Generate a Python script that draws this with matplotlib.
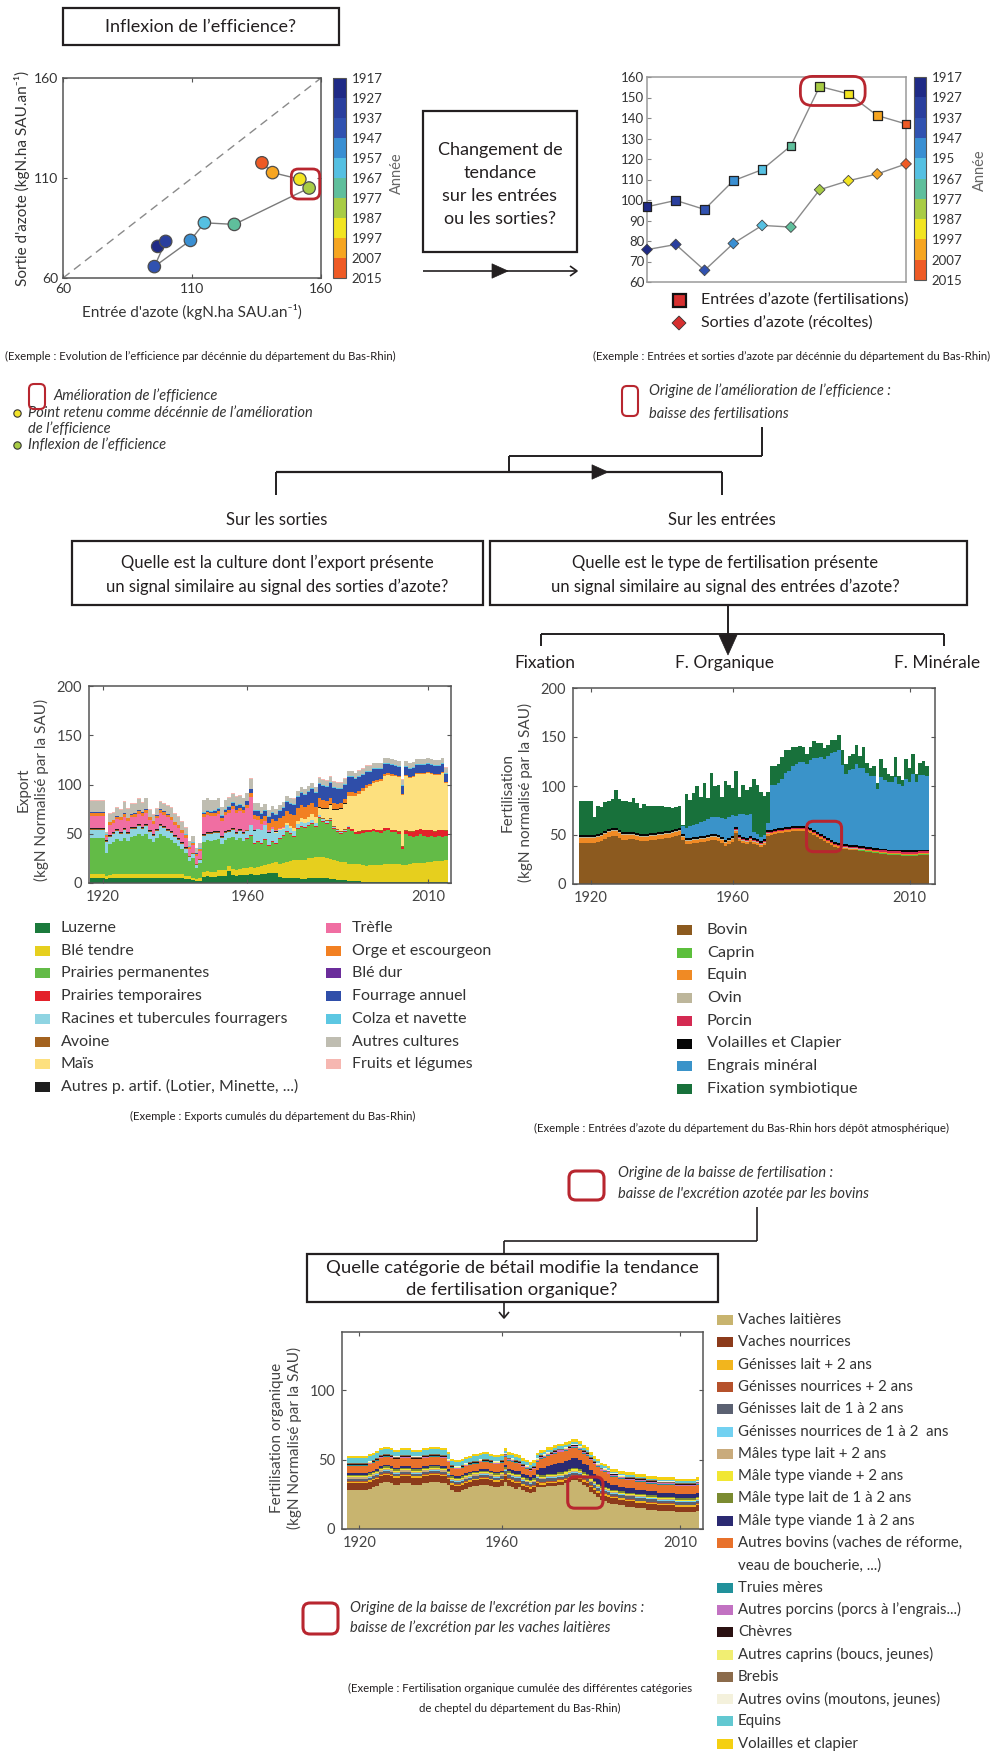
import matplotlib
matplotlib.use("Agg")
import matplotlib.pyplot as plt
import numpy as np
from matplotlib.patches import Rectangle, FancyBboxPatch, Polygon
from matplotlib.colors import ListedColormap, BoundaryNorm
from matplotlib.cm import ScalarMappable

plt.rcParams['font.family'] = ['Lato', 'DejaVu Sans']

# ---------------------------------------------------------------- decades
decades = [1917, 1927, 1937, 1947, 1957, 1967, 1977, 1987, 1997, 2007]
decade_edges = [1917, 1927, 1937, 1947, 1957, 1967, 1977, 1987, 1997, 2007, 2015]
decade_labels_left = ['1917', '1927', '1937', '1947', '1957', '1967', '1977', '1987', '1997', '2007', '2015']
decade_labels_right = ['1917', '1927', '1937', '1947', '195', '1967', '1977', '1987', '1997', '2007', '2015']
decade_colors = ['#1f2a86', '#2a3f9e', '#3152b0', '#3a8fd2', '#55c0e2',
                 '#5fbf9c', '#a8cc45', '#f2e421', '#f6a521', '#ee5a25']
entrees = [96.7, 99.8, 95.4, 109.4, 114.8, 126.4, 155.4, 151.8, 141.2, 137.1]
sorties = [75.8, 78.3, 65.7, 78.8, 87.6, 86.8, 105.0, 109.4, 112.7, 117.6]

# ---------------------------------------------------------------- yearly series
years = list(range(1917, 2016))

# Exports by crop
export_labels = ['Luzerne', 'Blé tendre', 'Prairies permanentes', 'Prairies temporaires',
                 'Racines et tubercules fourragers', 'Avoine', 'Maïs',
                 'Autres p. artif. (Lotier, Minette, ...)', 'Trèfle', 'Orge et escourgeon',
                 'Blé dur', 'Fourrage annuel', 'Colza et navette', 'Autres cultures',
                 'Fruits et légumes']
export_colors = ['#1b7a3c', '#e6cf1e', '#63bb47', '#e3212a', '#8fd4e2', '#a3621f', '#fde07e',
                 '#1e1e1e', '#f06ea2', '#f28022', '#6b2d9b', '#2f4ea9', '#5cc7e2', '#bfbdb1',
                 '#f6b7b1']
luzerne = [
    5, 5, 5, 5,
    4, 5, 5, 5, 5, 5, 5, 5, 5, 5,
    5, 5, 5, 5, 5, 5, 5, 5, 5, 5,
    5, 5, 4, 4, 3, 2, 2, 6, 7, 6,
    6, 7, 7, 7, 12, 8, 7, 8, 8, 8,
    9, 8, 8, 9, 9, 10, 10, 10, 6, 5,
    5, 5, 5, 5, 4, 4, 5, 5, 5, 5,
    5, 5, 4, 4, 3, 3, 3, 2, 2, 2,
    2, 1, 1, 1, 1, 1, 1, 1, 1, 1,
    1, 1, 1, 1, 1, 1, 1, 1, 1, 1,
    1, 1, 1, 1, 1]
ble_tendre = [
    4, 4, 4, 4,
    3, 3, 4, 4, 4, 4, 4, 4, 4, 4,
    4, 4, 4, 4, 4, 4, 4, 4, 4, 4,
    4, 4, 3, 3, 2, 2, 3, 5, 5, 5,
    5, 6, 6, 6, 5, 6, 6, 6, 7, 7,
    7, 7, 8, 8, 9, 9, 10, 11, 13, 15,
    16, 17, 18, 18, 19, 19, 20, 20, 21, 21,
    21, 20, 20, 19, 19, 18, 18, 17, 17, 17,
    17, 17, 16, 17, 17, 17, 17, 18, 18, 18,
    18, 18, 17, 17, 18, 19, 19, 19, 19, 20,
    20, 21, 21, 21, 22]
prairies_perm = [
    37, 37, 37, 37,
    23, 32, 33, 36, 34, 37, 34, 38, 39, 41,
    39, 41, 36, 33, 37, 41, 39, 37, 35, 32,
    29, 26, 23, 15, 20, 11, 15, 31, 32, 32,
    33, 32, 27, 31, 29, 33, 31, 32, 28, 30,
    32, 25, 26, 23, 26, 19, 22, 19, 26, 28,
    31, 28, 24, 32, 34, 33, 33, 35, 31, 40,
    36, 35, 39, 32, 30, 29, 31, 36, 34, 31,
    31, 33, 35, 34, 35, 34, 33, 34, 35, 33,
    33, 31, 17, 32, 29, 27, 28, 30, 28, 26,
    27, 25, 26, 25, 25]
prairies_temp = [
    0, 0, 0, 0,
    0, 0, 0, 0, 0, 0, 0, 0, 0, 0,
    0, 0, 0, 0, 0, 0, 0, 0, 0, 0,
    0, 0, 0, 0, 0, 0, 0, 0, 0, 0,
    0, 0, 0, 0, 0, 0, 0, 0, 0, 0.5,
    0.5, 0.5, 0.5, 0.5, 0.5, 0.5, 0.5, 0.5, 0.5, 0.5,
    0.5, 0.5, 0.5, 0.5, 0.5, 0.5, 0.5, 0.5, 0.5, 1,
    1, 1, 1, 1, 1, 1, 1, 1.5, 1.5, 1.5,
    2, 2, 2, 2, 2, 2, 2, 3, 2, 2,
    2, 2, 2, 3, 4, 5, 6, 5, 6, 7,
    6, 5, 6, 7, 5]
racines = [
    8, 8, 8, 8,
    12, 7, 8, 8, 7, 8, 7, 8, 7, 8,
    7, 8, 7, 6, 7, 8, 8, 7, 7, 6,
    6, 5, 5, 4, 4, 3, 3, 6, 6, 7,
    7, 6, 6, 7, 6, 7, 6, 7, 7, 7,
    10, 12, 12, 13, 14, 12, 12, 10, 8, 6,
    6, 5, 5, 4, 4, 4, 3, 3, 3, 2,
    2, 2, 1, 1, 1, 1, 1, 1, 0, 0,
    0, 0, 0, 0, 0, 0, 0, 0, 0, 0,
    0, 0, 0, 0, 0, 0, 0, 0, 0, 0,
    0, 0, 0, 0, 0]
avoine = [
    1, 1, 1, 1,
    1, 1, 1, 1, 1, 1, 1, 1, 1, 1,
    1, 1, 1, 1, 1, 1, 1, 1, 1, 1,
    1, 1, 1, 1, 1, 1, 1, 1, 1, 1,
    1, 1, 1, 1, 1, 1, 1, 1, 1, 1,
    0.5, 0.5, 0.5, 0.5, 0.5, 0.5, 0.5, 0.5, 0.5, 0.5,
    0.5, 0.5, 0.5, 0.5, 0.5, 0.5, 0.5, 0.5, 0.5, 0.5,
    0.5, 0.5, 0.5, 0.5, 0.5, 0.5, 0.5, 0.5, 0.5, 0.5,
    0.3, 0.3, 0.3, 0.3, 0.3, 0.3, 0.3, 0.3, 0.3, 0.3,
    0.3, 0.3, 0.3, 0.3, 0.3, 0.3, 0.3, 0.3, 0.3, 0.3,
    0.3, 0.3, 0.3, 0.3, 0.3]
mais = [
    0, 0, 0, 0,
    0, 0, 0, 0, 0, 0, 0, 0, 0, 0,
    0, 0, 0, 0, 0, 0, 0, 0, 0, 0,
    0, 0, 0, 0, 0, 0, 0, 0, 0, 0,
    0, 0, 0, 0, 0, 0, 0, 0, 0, 0,
    0, 0, 0, 0, 0, 0, 0, 1, 1, 1,
    2, 2, 3, 3, 4, 4, 5, 6, 6, 7,
    10, 12, 14, 17, 20, 23, 26, 30, 33, 36,
    38, 40, 42, 44, 46, 48, 50, 52, 53, 54,
    54, 55, 52, 55, 54, 55, 56, 55, 56, 57,
    56, 57, 55, 57, 48]
autres_artif = [
    0.5, 0.5, 0.5, 0.5,
    0.5, 0.5, 0.5, 0.5, 0.5, 0.5, 0.5, 0.5, 0.5, 0.5,
    0.5, 0.5, 0.5, 0.5, 0.5, 0.5, 0.5, 0.5, 0.5, 0.5,
    0.5, 0.5, 0.5, 0.5, 0.5, 0.5, 0.5, 0.5, 0.5, 0.5,
    0.5, 0.5, 0.5, 0.5, 0.5, 0.5, 0.5, 0.5, 0.5, 0.5,
    0.3, 0.3, 0.3, 0.3, 0.3, 0.3, 0.3, 0.3, 0.3, 0.3,
    0.3, 0.3, 0.3, 0.3, 0.3, 0.3, 0.3, 0.3, 0.3, 0.3,
    0.3, 0.3, 0.3, 0.3, 0.3, 0.3, 0.3, 0.3, 0.3, 0.3,
    0.3, 0.3, 0.3, 0.3, 0.3, 0.3, 0.3, 0.3, 0.3, 0.3,
    0.3, 0.3, 0.3, 0.3, 0.3, 0.3, 0.3, 0.3, 0.3, 0.3,
    0.3, 0.3, 0.3, 0.3, 0.3]
trefle = [
    13, 13, 13, 13,
    3, 10, 9, 10, 12, 12, 11, 10, 11, 11,
    12, 12, 10, 10, 11, 12, 12, 12, 11, 10,
    10, 9, 9, 7, 8, 8, 8, 18, 18, 17,
    16, 18, 15, 17, 18, 20, 20, 19, 20, 22,
    28, 12, 9, 6, 4, 3, 2, 2, 1, 1,
    0, 0, 0, 0, 0, 0, 0, 0, 0, 0,
    0, 0, 0, 0, 0, 0, 0, 0, 0, 0,
    0, 0, 0, 0, 0, 0, 0, 0, 0, 0,
    0, 0, 0, 0, 0, 0, 0, 0, 0, 0,
    0, 0, 0, 0, 0]
orge = [
    3, 3, 3, 3,
    2, 3, 3, 3, 3, 3, 3, 3, 3, 3,
    3, 3, 3, 3, 3, 3, 3, 3, 3, 3,
    3, 3, 3, 2, 2, 2, 2, 3, 3, 3,
    3, 3, 3, 3, 3, 3, 3, 3, 3, 3,
    4, 4, 4, 5, 5, 7, 8, 9, 10, 11,
    12, 12, 13, 13, 13, 12, 12, 11, 10, 9,
    8, 7, 6, 6, 5, 5, 4, 4, 4, 3,
    3, 3, 3, 2, 2, 2, 2, 2, 2, 2,
    1, 1, 1, 1, 1, 1, 1, 1, 1, 1,
    1, 1, 1, 1, 1]
ble_dur = [
    0, 0, 0, 0,
    0, 0, 0, 0, 0, 0, 0, 0, 0, 0,
    0, 0, 0, 0, 0, 0, 0, 0, 0, 0,
    0, 0, 0, 0, 0, 0, 0, 0, 0, 0,
    0, 0, 0, 0, 0, 0, 0, 0, 0, 0,
    0, 0, 0, 0, 0, 0, 0, 0, 0, 0,
    0, 0, 0, 0, 0, 0, 0, 0, 0, 0,
    0, 0, 0, 0, 0, 0, 0, 0, 0, 0.2,
    0.2, 0.2, 0.2, 0.2, 0.2, 0.2, 0.2, 0.2, 0.2, 0.2,
    0.2, 0.2, 0.2, 0.2, 0.2, 0.2, 0.2, 0.2, 0.2, 0.2,
    0.2, 0.2, 0.2, 0.2, 0.2]
fourrage = [
    0.5, 0.5, 0.5, 0.5,
    0.5, 0.5, 0.5, 0.5, 0.5, 0.5, 0.5, 0.5, 0.5, 0.5,
    0.5, 0.5, 0.5, 0.5, 0.5, 0.5, 0.5, 0.5, 0.5, 0.5,
    0.5, 0.5, 0.5, 0.5, 0.5, 0.5, 0.5, 1, 1, 1,
    2, 2, 3, 2, 3, 3, 4, 3, 3, 4,
    4, 4, 5, 5, 5, 6, 6, 6, 7, 8,
    9, 10, 10, 11, 12, 12, 13, 14, 14, 15,
    15, 15, 16, 16, 16, 15, 15, 15, 15, 14,
    14, 13, 13, 12, 12, 11, 10, 10, 9, 9,
    9, 9, 8, 8, 8, 8, 8, 8, 8, 8,
    8, 8, 8, 8, 8]
colza = [
    0.3, 0.3, 0.3, 0.3,
    0.3, 0.3, 0.3, 0.3, 0.3, 0.3, 0.3, 0.3, 0.3, 0.3,
    0.3, 0.3, 0.3, 0.3, 0.3, 0.3, 0.3, 0.3, 0.3, 0.3,
    0.3, 0.3, 0.3, 0.3, 0.3, 0.3, 0.3, 0.3, 0.3, 0.3,
    0.3, 0.3, 0.3, 0.3, 0.3, 0.3, 0.3, 0.3, 0.3, 0.3,
    0.5, 0.5, 0.5, 0.5, 0.5, 0.5, 0.5, 0.5, 0.5, 0.5,
    1, 1, 1, 1, 1, 1, 1, 1, 1, 1,
    1, 1, 1, 1, 1, 1, 1, 1, 1, 1,
    1, 1, 1, 1, 1, 1, 1, 1, 1, 1,
    1, 1, 1, 1, 1, 1, 1, 1, 1, 1,
    1, 1, 1, 1, 1]
autres_cultures = [
    11, 11, 11, 11,
    2, 8, 7, 8, 7, 11, 9, 10, 9, 11,
    9, 11, 7, 6, 6, 7, 7, 8, 9, 8,
    8, 8, 7, 5, 6, 5, 5, 12, 12, 11,
    10, 10, 8, 9, 9, 9, 9, 9, 8, 8,
    10, 7, 7, 6, 6, 6, 6, 5, 5, 5,
    5, 5, 5, 5, 5, 5, 5, 5, 5, 5,
    5, 5, 5, 5, 5, 5, 5, 5, 5, 5,
    5, 5, 5, 5, 5, 5, 5, 5, 5, 5,
    5, 5, 5, 5, 5, 5, 5, 5, 5, 5,
    5, 5, 5, 5, 5]
fruits_legumes = [
    0.5, 0.5, 0.5, 0.5,
    0.5, 0.5, 0.5, 0.5, 0.5, 0.5, 0.5, 0.5, 0.5, 0.5,
    0.5, 0.5, 0.5, 0.5, 0.5, 0.5, 0.5, 0.5, 0.5, 0.5,
    0.5, 0.5, 0.5, 0.5, 0.5, 0.5, 0.5, 0.5, 0.5, 0.5,
    0.5, 0.5, 0.5, 0.5, 0.5, 0.5, 0.5, 0.5, 0.5, 0.5,
    0.5, 0.5, 0.5, 0.5, 0.5, 0.5, 0.5, 0.5, 0.5, 0.5,
    0.5, 0.5, 0.5, 0.5, 0.5, 0.5, 0.5, 0.5, 0.5, 0.5,
    0.5, 0.5, 0.5, 0.5, 0.5, 0.5, 0.5, 0.5, 0.5, 0.5,
    0.5, 0.5, 0.5, 0.5, 0.5, 0.5, 0.5, 0.5, 0.5, 0.5,
    0.5, 0.5, 0.5, 0.5, 0.5, 0.5, 0.5, 0.5, 0.5, 0.5,
    0.5, 0.5, 0.5, 0.5, 0.5]
export_series = [luzerne, ble_tendre, prairies_perm, prairies_temp, racines, avoine, mais,
                 autres_artif, trefle, orge, ble_dur, fourrage, colza, autres_cultures,
                 fruits_legumes]

# Nitrogen inputs by type
fert_labels = ['Bovin', 'Caprin', 'Equin', 'Ovin', 'Porcin', 'Volailles et Clapier',
               'Engrais minéral', 'Fixation symbiotique']
fert_colors = ['#8c5a1f', '#5cbf3c', '#f08a24', '#bdb69b', '#d42a52', '#050505',
               '#3a93c9', '#18713b']
bovin = [
    42, 42, 42, 42,
    42, 43, 44, 46, 48, 49, 49, 47, 45, 45,
    46, 46, 45, 44, 44, 44, 45, 45, 46, 46,
    47, 47, 48, 49, 50, 45, 41, 41, 42, 42,
    43, 43, 44, 45, 45, 44, 42, 39, 41, 43,
    52, 44, 42, 41, 43, 41, 40, 38, 40, 49,
    50, 51, 52, 52, 53, 53, 54, 54, 54, 54,
    53, 52, 50, 48, 46, 44, 42, 40, 38, 37,
    36, 36, 35, 35, 35, 34, 34, 33, 33, 32,
    32, 31, 31, 30, 30, 30, 30, 29, 29, 29,
    29, 29, 30, 30, 30]
caprin = [
    0.2, 0.2, 0.2, 0.2,
    0.2, 0.2, 0.2, 0.2, 0.2, 0.2, 0.2, 0.2, 0.2, 0.2,
    0.2, 0.2, 0.2, 0.2, 0.2, 0.2, 0.2, 0.2, 0.2, 0.2,
    0.2, 0.2, 0.2, 0.2, 0.2, 0.2, 0.2, 0.2, 0.2, 0.2,
    0.2, 0.2, 0.2, 0.2, 0.2, 0.2, 0.2, 0.2, 0.2, 0.2,
    0.2, 0.2, 0.2, 0.2, 0.2, 0.2, 0.2, 0.2, 0.2, 0.2,
    0.2, 0.2, 0.2, 0.2, 0.2, 0.2, 0.2, 0.2, 0.2, 0.2,
    0.2, 0.2, 0.2, 0.2, 0.2, 0.2, 0.2, 0.2, 0.2, 0.2,
    0.2, 0.2, 0.2, 0.2, 0.2, 0.2, 0.2, 0.2, 0.2, 0.2,
    0.2, 0.2, 0.2, 0.2, 0.2, 0.2, 0.2, 0.2, 0.2, 0.2,
    0.2, 0.2, 0.2, 0.2, 0.2]
equin = [
    5, 5, 5, 5,
    5, 5, 5, 5, 5, 5, 5, 5, 5, 5,
    4, 4, 4, 4, 4, 4, 4, 4, 4, 4,
    4, 4, 4, 4, 4, 3, 3, 3, 3, 3,
    3, 3, 3, 3, 3, 3, 3, 3, 3, 3,
    2, 2, 2, 2, 2, 2, 2, 2, 2, 2,
    1.5, 1.5, 1.5, 1.5, 1.5, 1.5, 1.5, 1.5, 1.5, 1.5,
    1.5, 1.5, 1.5, 1.5, 1.5, 1.5, 1.5, 1.5, 1.5, 1.5,
    1, 1, 1, 1, 1, 1, 1, 1, 1, 1,
    1, 1, 1, 1, 1, 1, 1, 1, 1, 1,
    1, 1, 1, 1, 1]
ovin = [
    0.5, 0.5, 0.5, 0.5,
    0.5, 0.5, 0.5, 0.5, 0.5, 0.5, 0.5, 0.5, 0.5, 0.5,
    0.5, 0.5, 0.5, 0.5, 0.5, 0.5, 0.5, 0.5, 0.5, 0.5,
    0.5, 0.5, 0.5, 0.5, 0.5, 0.5, 0.5, 0.5, 0.5, 0.5,
    0.5, 0.5, 0.5, 0.5, 0.5, 0.5, 0.5, 0.5, 0.5, 0.5,
    0.5, 0.5, 0.5, 0.5, 0.5, 0.5, 0.5, 0.5, 0.5, 0.5,
    0.5, 0.5, 0.5, 0.5, 0.5, 0.5, 0.5, 0.5, 0.5, 0.5,
    0.5, 0.5, 0.5, 0.5, 0.5, 0.5, 0.5, 0.5, 0.5, 0.5,
    0.5, 0.5, 0.5, 0.5, 0.5, 0.5, 0.5, 0.5, 0.5, 0.5,
    0.5, 0.5, 0.5, 0.5, 0.5, 0.5, 0.5, 0.5, 0.5, 0.5,
    0.5, 0.5, 0.5, 0.5, 0.5]
porcin = [
    0.5, 0.5, 0.5, 0.5,
    0.5, 0.5, 0.5, 0.5, 0.5, 0.5, 0.5, 0.5, 0.5, 0.5,
    0.5, 0.5, 0.5, 0.5, 0.5, 0.5, 0.5, 0.5, 0.5, 0.5,
    0.5, 0.5, 0.5, 0.5, 0.5, 0.5, 0.5, 0.5, 0.5, 0.5,
    0.5, 0.5, 0.5, 0.5, 0.5, 0.5, 0.5, 0.5, 0.5, 0.5,
    1, 1, 1, 1, 1, 1, 1, 1, 1, 1,
    1, 1, 1, 1, 1, 1, 1, 1, 1, 1,
    1, 1, 1, 1, 1, 1, 1, 1, 1, 1,
    1.5, 1.5, 1.5, 1.5, 1.5, 1.5, 1.5, 1.5, 1.5, 1.5,
    1.5, 1.5, 1.5, 1.5, 1.5, 1.5, 1.5, 1.5, 1.5, 1.5,
    1.5, 1.5, 1.5, 1.5, 1.5]
volailles = [
    1.5, 1.5, 1.5, 1.5,
    1.5, 1.5, 1.5, 1.5, 1.5, 1.5, 1.5, 1.5, 1.5, 1.5,
    1.5, 1.5, 1.5, 1.5, 1.5, 1.5, 1.5, 1.5, 1.5, 1.5,
    1.5, 1.5, 1.5, 1.5, 1.5, 1.5, 1.5, 1.5, 1.5, 1.5,
    1.5, 1.5, 1.5, 1.5, 1.5, 1.5, 1.5, 1.5, 1.5, 1.5,
    2, 2, 2, 2, 2, 2, 2, 2, 2, 2,
    2, 2, 2, 2, 2, 2, 2, 2, 2, 2,
    2, 2, 2, 2, 2, 2, 2, 2, 2, 2,
    2, 2, 2, 2, 2, 2, 2, 2, 2, 2,
    2, 2, 2, 2, 2, 2, 2, 2, 2, 2,
    2, 2, 2, 2, 2]
engrais = [
    0, 0, 0, 0,
    0, 0, 0, 0, 0, 0, 0, 0, 0, 0,
    0, 0, 0, 0, 0, 0, 0, 0, 0, 0,
    0, 0, 0, 0, 0, 8, 10, 12, 12, 14,
    15, 16, 17, 18, 18, 19, 20, 22, 22, 22,
    12, 22, 24, 24, 23, 6, 5, 4, 4, 8,
    46, 45, 46, 50, 55, 57, 61, 63, 65, 65,
    64, 69, 73, 75, 78, 78, 83, 88, 91, 95,
    80, 71, 76, 77, 82, 79, 79, 75, 72, 73,
    60, 73, 70, 69, 69, 74, 67, 66, 73, 70,
    78, 70, 76, 76, 75]
fixation = [
    35, 35, 35, 35,
    19, 29, 27, 30, 29, 30, 39, 32, 32, 32,
    31, 35, 31, 27, 31, 29, 28, 28, 27, 27,
    25, 25, 23, 23, 23, 2, 35, 27, 33, 38,
    25, 38, 21, 45, 31, 32, 21, 38, 32, 27,
    46, 17, 29, 25, 27, 54, 50, 46, 40, 31,
    19, 19, 19, 22, 24, 22, 20, 18, 17, 16,
    10, 14, 18, 16, 15, 12, 12, 14, 13, 15,
    16, 10, 14, 15, 20, 12, 22, 10, 8, 10,
    6, 18, 12, 8, 6, 20, 8, 6, 20, 14,
    20, 8, 12, 14, 10]
fert_series = [bovin, caprin, equin, ovin, porcin, volailles, engrais, fixation]

# Organic fertilisation by livestock category
herd_labels = ['Vaches laitières', 'Vaches nourrices', 'Génisses lait + 2 ans',
               'Génisses nourrices + 2 ans', 'Génisses lait de 1 à 2 ans',
               'Génisses nourrices de 1 à 2  ans', 'Mâles type lait + 2 ans',
               'Mâle type viande + 2 ans', 'Mâle type lait de 1 à 2 ans',
               'Mâle type viande 1 à 2 ans', 'Autres bovins (vaches de réforme,\nveau de boucherie, ...)',
               'Truies mères', 'Autres porcins (porcs à l’engrais...)', 'Chèvres',
               'Autres caprins (boucs, jeunes)', 'Brebis', 'Autres ovins (moutons, jeunes)',
               'Equins', 'Volailles et clapier']
herd_colors = ['#c8b46f', '#8c3b1b', '#f2b51d', '#b5512b', '#5b6172', '#72d1f1', '#c9ab7c',
               '#f1e733', '#7b8b31', '#2b2a72', '#e8712b', '#21919b', '#c272c2', '#2b1112',
               '#f1ee72', '#8b6b4b', '#f4f1dc', '#62c8d1', '#f4d012']
vaches_laitieres = [
    28, 28, 28, 28,
    28, 28, 29, 30, 31, 33, 34, 34, 33, 32,
    32, 33, 33, 33, 32, 32, 32, 33, 33, 34,
    34, 34, 33, 33, 32, 28, 27, 27, 28, 29,
    30, 31, 31, 32, 32, 32, 31, 30, 30, 31,
    34, 31, 30, 29, 30, 28, 27, 26, 27, 30,
    30, 30, 31, 31, 31, 32, 32, 33, 34, 35,
    35, 34, 32, 30, 27, 25, 23, 21, 20, 19,
    18, 18, 17, 17, 16, 16, 16, 15, 15, 15,
    14, 14, 14, 13, 13, 13, 13, 13, 12, 12,
    12, 12, 12, 12, 13]
vaches_nourrices = [
    5, 5, 5, 5,
    5, 5, 5, 5, 5, 5, 5, 5, 5, 5,
    5, 5, 5, 5, 5, 5, 5, 5, 5, 5,
    5, 5, 5, 5, 4, 4, 4, 4, 4, 4,
    4, 4, 4, 4, 4, 4, 4, 4, 4, 4,
    4, 4, 4, 4, 3, 3, 3, 3, 3, 3,
    2, 2, 2, 2, 2, 2, 2, 2, 2, 2,
    2, 2, 2, 3, 3, 3, 3, 3, 4, 4,
    4, 4, 4, 4, 4, 4, 4, 4, 4, 4,
    4, 4, 4, 4, 4, 4, 4, 4, 4, 4,
    4, 4, 4, 4, 4]
genisses_lait_2 = [
    1, 1, 1, 1,
    1, 1, 1, 1, 1, 1, 1, 1, 1, 1,
    1, 1, 1, 1, 1, 1, 1, 1, 1, 1,
    1, 1, 1, 1, 1, 1, 1, 1, 1, 1,
    1, 1, 1, 1, 1, 1, 1, 1, 1, 1,
    1.2, 1.2, 1.2, 1.2, 1.2, 1.2, 1.2, 1.2, 1.2, 1.2,
    1.2, 1.2, 1.2, 1.2, 1.2, 1.2, 1.2, 1.2, 1.2, 1.2,
    1.2, 1.2, 1.2, 1.2, 1.2, 1.2, 1.2, 1.2, 1.2, 1.2,
    1, 1, 1, 1, 1, 1, 1, 1, 1, 1,
    1, 1, 1, 1, 1, 1, 1, 1, 1, 1,
    1, 1, 1, 1, 1]
genisses_nourr_2 = [
    0.4, 0.4, 0.4, 0.4,
    0.4, 0.4, 0.4, 0.4, 0.4, 0.4, 0.4, 0.4, 0.4, 0.4,
    0.4, 0.4, 0.4, 0.4, 0.4, 0.4, 0.4, 0.4, 0.4, 0.4,
    0.4, 0.4, 0.4, 0.4, 0.4, 0.4, 0.4, 0.4, 0.4, 0.4,
    0.4, 0.4, 0.4, 0.4, 0.4, 0.4, 0.4, 0.4, 0.4, 0.4,
    0.5, 0.5, 0.5, 0.5, 0.5, 0.5, 0.5, 0.5, 0.5, 0.5,
    0.5, 0.5, 0.5, 0.5, 0.5, 0.5, 0.5, 0.5, 0.5, 0.5,
    0.5, 0.5, 0.5, 0.5, 0.5, 0.5, 0.5, 0.5, 0.5, 0.5,
    0.5, 0.5, 0.5, 0.5, 0.5, 0.5, 0.5, 0.5, 0.5, 0.5,
    0.5, 0.5, 0.5, 0.5, 0.5, 0.5, 0.5, 0.5, 0.5, 0.5,
    0.5, 0.5, 0.5, 0.5, 0.5]
genisses_lait_12 = [
    1.5, 1.5, 1.5, 1.5,
    1.5, 1.5, 1.5, 1.5, 1.5, 1.5, 1.5, 1.5, 1.5, 1.5,
    1.5, 1.5, 1.5, 1.5, 1.5, 1.5, 1.5, 1.5, 1.5, 1.5,
    1.5, 1.5, 1.5, 1.5, 1.5, 1.5, 1.5, 1.5, 1.5, 1.5,
    1.5, 1.5, 1.5, 1.5, 1.5, 1.5, 1.5, 1.5, 1.5, 1.5,
    2, 2, 2, 2, 2, 2, 2, 2, 2, 2,
    2, 2, 2, 2, 2, 2, 2, 2, 2, 2,
    2, 2, 2, 2, 2, 2, 2, 2, 2, 2,
    2, 2, 2, 2, 2, 2, 2, 2, 2, 2,
    2, 2, 2, 2, 2, 2, 2, 2, 2, 2,
    2, 2, 2, 2, 2]
genisses_nourr_12 = [
    0.5, 0.5, 0.5, 0.5,
    0.5, 0.5, 0.5, 0.5, 0.5, 0.5, 0.5, 0.5, 0.5, 0.5,
    0.5, 0.5, 0.5, 0.5, 0.5, 0.5, 0.5, 0.5, 0.5, 0.5,
    0.5, 0.5, 0.5, 0.5, 0.5, 0.5, 0.5, 0.5, 0.5, 0.5,
    0.5, 0.5, 0.5, 0.5, 0.5, 0.5, 0.5, 0.5, 0.5, 0.5,
    0.5, 0.5, 0.5, 0.5, 0.5, 0.5, 0.5, 0.5, 0.5, 0.5,
    0.5, 0.5, 0.5, 0.5, 0.5, 0.5, 0.5, 0.5, 0.5, 0.5,
    0.5, 0.5, 0.5, 0.5, 0.5, 0.5, 0.5, 0.5, 0.5, 0.5,
    0.5, 0.5, 0.5, 0.5, 0.5, 0.5, 0.5, 0.5, 0.5, 0.5,
    0.5, 0.5, 0.5, 0.5, 0.5, 0.5, 0.5, 0.5, 0.5, 0.5,
    0.5, 0.5, 0.5, 0.5, 0.5]
males_lait_2 = [
    1, 1, 1, 1,
    1, 1, 1, 1, 1, 1, 1, 1, 1, 1,
    1, 1, 1, 1, 1, 1, 1, 1, 1, 1,
    1, 1, 1, 1, 1, 1, 1, 1, 1, 1,
    1, 1, 1, 1, 1, 1, 1, 1, 1, 1,
    0.7, 0.7, 0.7, 0.7, 0.7, 0.7, 0.7, 0.7, 0.7, 0.7,
    0.7, 0.7, 0.7, 0.7, 0.7, 0.7, 0.7, 0.7, 0.7, 0.7,
    0.7, 0.7, 0.7, 0.7, 0.7, 0.7, 0.7, 0.7, 0.7, 0.7,
    0.5, 0.5, 0.5, 0.5, 0.5, 0.5, 0.5, 0.5, 0.5, 0.5,
    0.5, 0.5, 0.5, 0.5, 0.5, 0.5, 0.5, 0.5, 0.5, 0.5,
    0.5, 0.5, 0.5, 0.5, 0.5]
males_viande_2 = [
    0.7, 0.7, 0.7, 0.7,
    0.7, 0.7, 0.7, 0.7, 0.7, 0.7, 0.7, 0.7, 0.7, 0.7,
    0.7, 0.7, 0.7, 0.7, 0.7, 0.7, 0.7, 0.7, 0.7, 0.7,
    0.7, 0.7, 0.7, 0.7, 0.7, 0.7, 0.7, 0.7, 0.7, 0.7,
    0.7, 0.7, 0.7, 0.7, 0.7, 0.7, 0.7, 0.7, 0.7, 0.7,
    0.7, 0.7, 0.7, 0.7, 0.7, 0.7, 0.7, 0.7, 0.7, 0.7,
    0.8, 0.8, 0.8, 0.8, 1, 1, 1, 1, 1, 1.2,
    1.2, 1.2, 1, 1, 1, 0.8, 0.8, 0.8, 0.7, 0.7,
    0.7, 0.7, 0.7, 0.7, 0.7, 0.7, 0.7, 0.7, 0.7, 0.7,
    0.7, 0.7, 0.7, 0.7, 0.7, 0.7, 0.7, 0.7, 0.7, 0.7,
    0.7, 0.7, 0.7, 0.7, 0.7]
males_lait_12 = [
    1, 1, 1, 1,
    1, 1, 1, 1, 1, 1, 1, 1, 1, 1,
    1, 1, 1, 1, 1, 1, 1, 1, 1, 1,
    1, 1, 1, 1, 1, 1, 1, 1, 1, 1,
    1, 1, 1, 1, 1, 1, 1, 1, 1, 1,
    1, 1, 1, 1, 1, 1, 1, 1, 1, 1,
    1, 1, 1, 1, 1, 1, 1, 1, 1, 1,
    1, 1, 1, 1, 1, 1, 1, 1, 1, 1,
    1, 1, 1, 1, 1, 1, 1, 1, 1, 1,
    1, 1, 1, 1, 1, 1, 1, 1, 1, 1,
    1, 1, 1, 1, 1]
males_viande_12 = [
    1, 1, 1, 1,
    1, 1, 1, 1, 1, 1, 1, 1, 1, 1,
    1, 1, 1, 1, 1, 1, 1, 1, 1, 1,
    1, 1, 1, 1, 1, 1, 1, 1, 1, 1,
    1, 1, 1, 1, 1, 1, 1, 1, 1, 1,
    1.5, 1.5, 2, 2, 2, 2, 2, 2, 2.5, 3,
    5, 5.5, 6, 6.5, 7, 7, 7, 7, 7, 7,
    7, 6.5, 6, 6, 5.5, 5, 5, 4.5, 4, 3.5,
    3.5, 3.5, 3, 3, 3, 3, 3, 3, 3, 3,
    3, 3, 3, 3, 3, 3, 3, 3, 3, 3,
    3, 3, 3, 3, 3]
autres_bovins = [
    5.5, 5.5, 5.5, 5.5,
    5.5, 5.5, 5.5, 5.5, 6, 6, 6, 6, 6, 6,
    6, 6, 6, 6, 6, 6, 6, 6, 6, 6,
    6, 6, 6, 6, 5, 5, 5, 5, 5, 5,
    5, 5, 5, 5, 5.5, 5.5, 5.5, 5.5, 5.5, 5.5,
    6, 6, 6, 6, 5, 5, 5, 4, 4, 6,
    7, 7, 7, 7, 7.5, 7.5, 7.5, 7.5, 7.5, 7.5,
    7.5, 7.5, 7.5, 7, 7, 7, 7, 6.5, 6.5, 6.5,
    6, 6, 6, 6, 6, 6, 6, 6, 6, 6,
    5.5, 5.5, 5.5, 5.5, 5.5, 5.5, 5.5, 5.5, 5.5, 5.5,
    5.5, 5.5, 5.5, 5.5, 5.5]
truies_meres = [
    0.4, 0.4, 0.4, 0.4,
    0.4, 0.4, 0.4, 0.4, 0.4, 0.4, 0.4, 0.4, 0.4, 0.4,
    0.4, 0.4, 0.4, 0.4, 0.4, 0.4, 0.4, 0.4, 0.4, 0.4,
    0.4, 0.4, 0.4, 0.4, 0.4, 0.4, 0.4, 0.4, 0.4, 0.4,
    0.4, 0.4, 0.4, 0.4, 0.4, 0.4, 0.4, 0.4, 0.4, 0.4,
    0.4, 0.4, 0.4, 0.4, 0.4, 0.4, 0.4, 0.4, 0.4, 0.4,
    0.4, 0.4, 0.4, 0.4, 0.4, 0.4, 0.4, 0.4, 0.4, 0.4,
    0.4, 0.4, 0.4, 0.4, 0.4, 0.4, 0.4, 0.4, 0.4, 0.4,
    0.4, 0.4, 0.4, 0.4, 0.4, 0.4, 0.4, 0.4, 0.4, 0.4,
    0.4, 0.4, 0.4, 0.4, 0.4, 0.4, 0.4, 0.4, 0.4, 0.4,
    0.4, 0.4, 0.4, 0.4, 0.4]
autres_porcins = [
    0.3, 0.3, 0.3, 0.3,
    0.3, 0.3, 0.3, 0.3, 0.3, 0.3, 0.3, 0.3, 0.3, 0.3,
    0.3, 0.3, 0.3, 0.3, 0.3, 0.3, 0.3, 0.3, 0.3, 0.3,
    0.3, 0.3, 0.3, 0.3, 0.3, 0.3, 0.3, 0.3, 0.3, 0.3,
    0.3, 0.3, 0.3, 0.3, 0.3, 0.3, 0.3, 0.3, 0.3, 0.3,
    0.6, 0.6, 0.6, 0.6, 0.6, 0.6, 0.6, 0.6, 0.6, 0.6,
    0.8, 0.8, 0.8, 0.8, 0.8, 0.8, 0.8, 0.8, 0.8, 0.8,
    0.8, 0.8, 0.8, 0.8, 0.8, 0.8, 0.8, 0.8, 0.8, 0.8,
    0.8, 0.8, 0.8, 0.8, 0.8, 0.8, 0.8, 0.8, 0.8, 0.8,
    0.8, 0.8, 0.8, 0.8, 0.8, 0.8, 0.8, 0.8, 0.8, 0.8,
    0.8, 0.8, 0.8, 0.8, 0.8]
chevres = [
    0.5, 0.5, 0.5, 0.5,
    0.5, 0.5, 0.5, 0.5, 0.5, 0.5, 0.5, 0.5, 0.5, 0.5,
    0.5, 0.5, 0.5, 0.5, 0.5, 0.5, 0.5, 0.5, 0.5, 0.5,
    0.5, 0.5, 0.5, 0.5, 0.5, 0.5, 0.5, 0.5, 0.5, 0.5,
    0.5, 0.5, 0.5, 0.5, 0.5, 0.5, 0.5, 0.5, 0.5, 0.5,
    0.4, 0.4, 0.4, 0.4, 0.4, 0.4, 0.4, 0.4, 0.4, 0.4,
    0.4, 0.4, 0.4, 0.4, 0.4, 0.4, 0.4, 0.4, 0.4, 0.4,
    0.4, 0.4, 0.4, 0.4, 0.4, 0.4, 0.4, 0.4, 0.4, 0.4,
    0.4, 0.4, 0.4, 0.4, 0.4, 0.4, 0.4, 0.4, 0.4, 0.4,
    0.4, 0.4, 0.4, 0.4, 0.4, 0.4, 0.4, 0.4, 0.4, 0.4,
    0.4, 0.4, 0.4, 0.4, 0.4]
autres_caprins = [
    0.2, 0.2, 0.2, 0.2,
    0.2, 0.2, 0.2, 0.2, 0.2, 0.2, 0.2, 0.2, 0.2, 0.2,
    0.2, 0.2, 0.2, 0.2, 0.2, 0.2, 0.2, 0.2, 0.2, 0.2,
    0.2, 0.2, 0.2, 0.2, 0.2, 0.2, 0.2, 0.2, 0.2, 0.2,
    0.2, 0.2, 0.2, 0.2, 0.2, 0.2, 0.2, 0.2, 0.2, 0.2,
    0.2, 0.2, 0.2, 0.2, 0.2, 0.2, 0.2, 0.2, 0.2, 0.2,
    0.2, 0.2, 0.2, 0.2, 0.2, 0.2, 0.2, 0.2, 0.2, 0.2,
    0.2, 0.2, 0.2, 0.2, 0.2, 0.2, 0.2, 0.2, 0.2, 0.2,
    0.2, 0.2, 0.2, 0.2, 0.2, 0.2, 0.2, 0.2, 0.2, 0.2,
    0.2, 0.2, 0.2, 0.2, 0.2, 0.2, 0.2, 0.2, 0.2, 0.2,
    0.2, 0.2, 0.2, 0.2, 0.2]
brebis = [
    0.5, 0.5, 0.5, 0.5,
    0.5, 0.5, 0.5, 0.5, 0.5, 0.5, 0.5, 0.5, 0.5, 0.5,
    0.5, 0.5, 0.5, 0.5, 0.5, 0.5, 0.5, 0.5, 0.5, 0.5,
    0.5, 0.5, 0.5, 0.5, 0.5, 0.5, 0.5, 0.5, 0.5, 0.5,
    0.5, 0.5, 0.5, 0.5, 0.5, 0.5, 0.5, 0.5, 0.5, 0.5,
    0.5, 0.5, 0.5, 0.5, 0.5, 0.5, 0.5, 0.5, 0.5, 0.5,
    0.5, 0.5, 0.5, 0.5, 0.5, 0.5, 0.5, 0.5, 0.5, 0.5,
    0.5, 0.5, 0.5, 0.5, 0.5, 0.5, 0.5, 0.5, 0.5, 0.5,
    0.5, 0.5, 0.5, 0.5, 0.5, 0.5, 0.5, 0.5, 0.5, 0.5,
    0.5, 0.5, 0.5, 0.5, 0.5, 0.5, 0.5, 0.5, 0.5, 0.5,
    0.5, 0.5, 0.5, 0.5, 0.5]
autres_ovins = [
    0.3, 0.3, 0.3, 0.3,
    0.3, 0.3, 0.3, 0.3, 0.3, 0.3, 0.3, 0.3, 0.3, 0.3,
    0.3, 0.3, 0.3, 0.3, 0.3, 0.3, 0.3, 0.3, 0.3, 0.3,
    0.3, 0.3, 0.3, 0.3, 0.3, 0.3, 0.3, 0.3, 0.3, 0.3,
    0.3, 0.3, 0.3, 0.3, 0.3, 0.3, 0.3, 0.3, 0.3, 0.3,
    0.3, 0.3, 0.3, 0.3, 0.3, 0.3, 0.3, 0.3, 0.3, 0.3,
    0.3, 0.3, 0.3, 0.3, 0.3, 0.3, 0.3, 0.3, 0.3, 0.3,
    0.3, 0.3, 0.3, 0.3, 0.3, 0.3, 0.3, 0.3, 0.3, 0.3,
    0.3, 0.3, 0.3, 0.3, 0.3, 0.3, 0.3, 0.3, 0.3, 0.3,
    0.3, 0.3, 0.3, 0.3, 0.3, 0.3, 0.3, 0.3, 0.3, 0.3,
    0.3, 0.3, 0.3, 0.3, 0.3]
equins = [
    3.5, 3.5, 3.5, 3.5,
    3.5, 3.5, 3.5, 3.5, 3.5, 3.5, 3.5, 3.5, 3.5, 3.5,
    3.5, 3.5, 3.5, 3.5, 3.5, 3.5, 3.5, 3.5, 3.5, 3.5,
    3.5, 3.5, 3.5, 3.5, 3.5, 3, 3, 3, 3, 3,
    3, 3, 3, 3, 3, 3, 3, 3, 3, 3,
    2, 2, 2, 2, 2, 2, 2, 2, 2, 2,
    1.5, 1.5, 1.5, 1.5, 1.5, 1.5, 1.5, 1.5, 1.5, 1.5,
    1.5, 1.5, 1.5, 1.5, 1.5, 1.5, 1.5, 1.5, 1.5, 1.5,
    1, 1, 1, 1, 1, 1, 1, 1, 1, 1,
    1, 1, 1, 1, 1, 1, 1, 1, 1, 1,
    1, 1, 1, 1, 1]
volailles_clapier = [
    1.5, 1.5, 1.5, 1.5,
    1.5, 1.5, 1.5, 1.5, 1.5, 1.5, 1.5, 1.5, 1.5, 1.5,
    1.5, 1.5, 1.5, 1.5, 1.5, 1.5, 1.5, 1.5, 1.5, 1.5,
    1.5, 1.5, 1.5, 1.5, 1.5, 1.5, 1.5, 1.5, 1.5, 1.5,
    1.5, 1.5, 1.5, 1.5, 1.5, 1.5, 1.5, 1.5, 1.5, 1.5,
    2, 2, 2, 2, 2, 2, 2, 2, 2, 2,
    2, 2, 2, 2, 2, 2, 2, 2, 2, 2,
    2, 2, 2, 2, 2, 2, 2, 2, 2, 2,
    2, 2, 2, 2, 2, 2, 2, 2, 2, 2,
    2, 2, 2, 2, 2, 2, 2, 2, 2, 2,
    2, 2, 2, 2, 2]
herd_series = [vaches_laitieres, vaches_nourrices, genisses_lait_2, genisses_nourr_2,
               genisses_lait_12, genisses_nourr_12, males_lait_2, males_viande_2,
               males_lait_12, males_viande_12, autres_bovins, truies_meres, autres_porcins,
               chevres, autres_caprins, brebis, autres_ovins, equins, volailles_clapier]

for group in (export_series, fert_series, herd_series):
    for s in group:
        assert len(s) == len(years), len(s)

# ---------------------------------------------------------------- figure
W, H = 998, 1755
fig = plt.figure(figsize=(W / 100, H / 100), dpi=100)
fig.patch.set_facecolor('white')

# pixel-space overlay for boxes, arrows and free text (drawn above the charts)
ov = fig.add_axes([0, 0, 1, 1])
ov.set_xlim(0, W)
ov.set_ylim(H, 0)
ov.axis('off')
ov.set_zorder(10)

RED = '#b8262f'
INK = '#231f20'
CAPTION_SIZE = 8.2


def axes_px(x0, y0, x1, y1):
    return fig.add_axes([x0 / W, 1 - y1 / H, (x1 - x0) / W, (y1 - y0) / H])


def to_px(ax, x, y):
    d = ax.transData.transform((x, y))
    return ov.transData.inverted().transform(d)


def rect(x0, y0, x1, y1, lw=1.6, ec=INK):
    ov.add_patch(Rectangle((x0, y0), x1 - x0, y1 - y0, fill=False, ec=ec, lw=lw))


def rbox(x0, y0, x1, y1, r=7, lw=2.0, ec=RED):
    ov.add_patch(FancyBboxPatch((x0, y0), x1 - x0, y1 - y0,
                                boxstyle=f"round,pad=0,rounding_size={r}",
                                fill=False, ec=ec, lw=lw, zorder=20))


def rbox_data(ax, xa, ya, xb, yb, r=7, lw=2.0):
    p0 = to_px(ax, xa, yb)
    p1 = to_px(ax, xb, ya)
    rbox(p0[0], p0[1], p1[0], p1[1], r=r, lw=lw)


def line(xs, ys, lw=1.4, color=INK):
    ov.plot(xs, ys, color=color, lw=lw, solid_capstyle='butt')


def tri(x, y, direction, size=9):
    if direction == 'right':
        pts = [(x - size, y - size * 0.9), (x - size, y + size * 0.9), (x + size, y)]
    else:
        pts = [(x - size * 0.9, y - size), (x + size * 0.9, y - size), (x, y + size)]
    ov.add_patch(Polygon(pts, closed=True, fc=INK, ec=INK, lw=0.5))


def txt(x, y, s, size=12, **kw):
    kw.setdefault('color', INK)
    kw.setdefault('ha', 'center')
    kw.setdefault('va', 'center')
    ov.text(x, y, s, fontsize=size, **kw)


def style_frame(ax, color='#555555'):
    for sp in ax.spines.values():
        sp.set_color(color)
        sp.set_linewidth(1.1)


cmap = ListedColormap(decade_colors)
norm = BoundaryNorm(decade_edges, cmap.N)


def decade_colorbar(cax, labels):
    cb = fig.colorbar(ScalarMappable(norm=norm, cmap=cmap), cax=cax,
                      spacing='uniform', ticks=decade_edges)
    cax.invert_yaxis()
    cb.set_ticklabels(labels)
    cb.outline.set_edgecolor('#555555')
    cb.outline.set_linewidth(0.8)
    cax.tick_params(length=0, labelsize=9.5, labelcolor='#333333', pad=4)
    return cb


# ================================================================ top left: efficiency
rect(63, 8, 339, 45)
txt(201, 27, 'Inflexion de l’efficience?', size=13)

ax_sc = axes_px(63, 78, 321, 278)
ax_sc.plot([60, 160], [60, 160], ls=(0, (6, 4)), color='#8a8a8a', lw=1.0)
ax_sc.plot(entrees, sorties, color='#7a7a7a', lw=1.0, zorder=2)
ax_sc.scatter(entrees, sorties, c=decades, cmap=cmap, norm=norm, s=80,
              edgecolors='#4d4d4d', linewidths=0.9, zorder=3, clip_on=False)
ax_sc.set_xlim(60, 160)
ax_sc.set_ylim(60, 160)
ax_sc.set_xticks([60, 110, 160])
ax_sc.set_yticks([60, 110, 160])
ax_sc.tick_params(direction='in', length=3, labelsize=10, labelcolor='#333333',
                  top=True, right=True, color='#555555')
style_frame(ax_sc)
txt(22, 178, 'Sortie d\'azote (kgN.ha SAU.an⁻¹)', size=11, rotation=90, color='#333333')
txt(192, 312, 'Entrée d\'azote (kgN.ha SAU.an⁻¹)', size=11, color='#333333')
rbox_data(ax_sc, 148.5, 99.5, 159.5, 114.5, r=7)

cax1 = axes_px(333, 78, 346, 278)
decade_colorbar(cax1, decade_labels_left)
txt(397, 173, 'Année', size=10.5, rotation=90, color='#666666')

# ================================================================ top middle question
rect(423, 111, 577, 252)
for yy, s in zip([150, 173, 196, 219],
                 ['Changement de', 'tendance', 'sur les entrées', 'ou les sorties?']):
    txt(500, yy, s, size=13)
line([423, 576], [271, 271], lw=1.2)
tri(500, 271, 'right', size=8)
line([570, 577, 570], [266, 271, 276], lw=1.2)

# ================================================================ top right: decade inputs/outputs
ax_io = axes_px(647, 77, 906, 282)
idx = list(range(len(decades)))
ax_io.plot(idx, entrees, color='#8a8a8a', lw=1.0, zorder=2)
ax_io.plot(idx, sorties, color='#8a8a8a', lw=1.0, zorder=2)
ax_io.scatter(idx, entrees, c=decades, cmap=cmap, norm=norm, marker='s', s=38,
              edgecolors='#222222', linewidths=0.9, zorder=3, clip_on=False)
ax_io.scatter(idx, sorties, c=decades, cmap=cmap, norm=norm, marker='D', s=30,
              edgecolors='#444444', linewidths=0.6, zorder=3, clip_on=False)
ax_io.set_xlim(0, 9)
ax_io.set_ylim(60, 160)
ax_io.set_yticks(range(60, 161, 10))
ax_io.set_xticks([])
ax_io.tick_params(direction='in', length=3, labelsize=9.5, labelcolor='#333333',
                  color='#888888', pad=2)
style_frame(ax_io, '#9a9a9a')
rbox_data(ax_io, 5.33, 146.1, 7.58, 160.3, r=12)

cax2 = axes_px(914, 77, 926, 280)
decade_colorbar(cax2, decade_labels_right)
txt(980, 170, 'Année', size=10.5, rotation=90, color='#666666')

ov.add_patch(Rectangle((673, 294), 13, 13, fc='#d63030', ec='#111111', lw=1.6))
ov.add_patch(Polygon([(679, 316), (686, 323), (679, 330), (672, 323)], closed=True,
                     fc='#d63030', ec='#333333', lw=0.6))
txt(701, 300, 'Entrées d’azote (fertilisations)', size=11.5, ha='left')
txt(701, 323, 'Sorties d’azote (récoltes)', size=11.5, ha='left')

# captions
txt(200, 356, '(Exemple : Evolution de l’efficience par décénnie du département du Bas-Rhin)',
    size=CAPTION_SIZE)
txt(792, 356, '(Exemple : Entrées et sorties d’azote par décénnie du département du Bas-Rhin)',
    size=CAPTION_SIZE)

# ================================================================ annotations row
rbox(29, 384, 45, 409, r=5, lw=1.5)
txt(53, 396, 'Amélioration de l’efficience', size=10.5, ha='left', style='italic',
    color='#333333')
ov.scatter([17], [413], s=28, c='#f2e32a', edgecolors='#333333', linewidths=0.8, zorder=5)
txt(28, 413, 'Point retenu comme décénnie de l’amélioration', size=10.5, ha='left',
    style='italic', color='#333333')
txt(28, 429, 'de l’efficience', size=10.5, ha='left', style='italic', color='#333333')
ov.scatter([17], [445], s=28, c='#a8cc45', edgecolors='#333333', linewidths=0.8, zorder=5)
txt(28, 445, 'Inflexion de l’efficience', size=10.5, ha='left', style='italic',
    color='#333333')

rbox(622, 386, 638, 416, r=5, lw=1.5)
txt(649, 391, 'Origine de l’amélioration de l’efficience :', size=10.5, ha='left',
    style='italic', color='#333333')
txt(649, 414, 'baisse des fertilisations', size=10.5, ha='left', style='italic',
    color='#333333')

# connectors
line([762, 762], [427, 456])
line([509, 762], [456, 456])
line([509, 509], [456, 472])
line([276, 722], [472, 472], lw=1.6)
tri(600, 472, 'right', size=8)
line([276, 276], [472, 495])
line([722, 722], [472, 495])

txt(277, 520, 'Sur les sorties', size=12)
txt(722, 520, 'Sur les entrées', size=12)

rect(72, 541, 483, 605)
txt(277, 563, 'Quelle est la culture dont l’export présente', size=12)
txt(277, 587, 'un signal similaire au signal des sorties d’azote?', size=12)
rect(490, 541, 967, 605)
txt(725, 563, 'Quelle est le type de fertilisation présente', size=12)
txt(725, 587, 'un signal similaire au signal des entrées d’azote?', size=12)

line([541, 944], [634, 634])
line([541, 541], [634, 646])
line([944, 944], [634, 646])
line([728, 728], [605, 640])
tri(728, 645, 'down', size=10)
txt(545, 663, 'Fixation', size=12.5)
txt(725, 663, 'F. Organique', size=12.5)
txt(937, 663, 'F. Minérale', size=12.5)


# ================================================================ stacked bar charts
def stacked(ax, series, colors):
    bottom = np.zeros(len(years))
    for vals, col in zip(series, colors):
        v = np.asarray(vals, dtype=float)
        ax.bar(years, v, bottom=bottom, width=1.0, color=col, linewidth=0, align='center')
        bottom += v


def bar_axes_style(ax):
    ax.set_xticks([1920, 1960, 2010])
    ax.tick_params(direction='in', length=3, labelsize=10.5, labelcolor='#444444',
                   top=True, right=True, color='#555555', pad=5)
    style_frame(ax)


ax_ex = axes_px(89, 686, 451, 883)
stacked(ax_ex, export_series, export_colors)
ax_ex.set_xlim(1916.2, 2016.4)
ax_ex.set_ylim(0, 200)
ax_ex.set_yticks([0, 50, 100, 150, 200])
bar_axes_style(ax_ex)
txt(33, 790, 'Export\n(kgN Normalisé par la SAU)', size=11, rotation=90, color='#444444',
    multialignment='center', linespacing=1.25)

ax_fe = axes_px(573, 688, 935, 884)
stacked(ax_fe, fert_series, fert_colors)
ax_fe.set_xlim(1914.9, 2017.2)
ax_fe.set_ylim(0, 200)
ax_fe.set_yticks([0, 50, 100, 150, 200])
bar_axes_style(ax_fe)
txt(517, 792, 'Fertilisation\n(kgN normalisé par la SAU)', size=11, rotation=90,
    color='#444444', multialignment='center', linespacing=1.25)
rbox_data(ax_fe, 1980.9, 33, 1990.8, 64, r=7, lw=2.2)

# export legend (two columns)
col_left = export_labels[:8]
col_right = export_labels[8:]
for i, lab in enumerate(col_left):
    y = 928 + i * 22.7
    ov.add_patch(Rectangle((35, y - 5), 15, 10, fc=export_colors[i], ec='none'))
    txt(61, y, lab, size=11.5, ha='left', color='#333333')
for i, lab in enumerate(col_right):
    y = 928 + i * 22.7
    ov.add_patch(Rectangle((326, y - 5), 15, 10, fc=export_colors[8 + i], ec='none'))
    txt(352, y, lab, size=11.5, ha='left', color='#333333')
txt(273, 1116, '(Exemple : Exports cumulés du département du Bas-Rhin)', size=CAPTION_SIZE)

# fertilisation legend
for i, lab in enumerate(fert_labels):
    y = 930 + i * 22.7
    ov.add_patch(Rectangle((677, y - 5), 15, 10, fc=fert_colors[i], ec='none'))
    txt(707, y, lab, size=11.8, ha='left', color='#333333')
txt(742, 1128, '(Exemple : Entrées d’azote du département du Bas-Rhin hors dépôt atmosphérique)',
    size=CAPTION_SIZE)

rbox(569, 1171, 604, 1200, r=7, lw=2.2)
txt(618, 1173, 'Origine de la baisse de fertilisation :', size=10.5, ha='left',
    style='italic', color='#333333')
txt(618, 1194, 'baisse de l\'excrétion azotée par les bovins', size=10.5, ha='left',
    style='italic', color='#333333')

line([757, 757], [1207, 1241], lw=1.2)
line([504, 757], [1241, 1241], lw=1.2)
line([504, 504], [1241, 1254], lw=1.2)

# ================================================================ bottom: livestock categories
rect(307, 1254, 718, 1302)
txt(512, 1268, 'Quelle catégorie de bétail modifie la tendance', size=13.3)
txt(512, 1290, 'de fertilisation organique?', size=13.3)
line([504, 504], [1303, 1318], lw=1.2)
line([499, 504, 509], [1312, 1318, 1312], lw=1.2)

ax_he = axes_px(342, 1332, 703, 1529)
stacked(ax_he, herd_series, herd_colors)
ax_he.set_xlim(1915.1, 2016.5)
ax_he.set_ylim(0, 142)
ax_he.set_yticks([0, 50, 100])
bar_axes_style(ax_he)
txt(286, 1438, 'Fertilisation organique\n(kgN Normalisé par la SAU)', size=11, rotation=90,
    color='#444444', multialignment='center', linespacing=1.25)
rbox_data(ax_he, 1978.5, 15, 1988.4, 37.5, r=7, lw=2.2)

row = 0
for i, lab in enumerate(herd_labels):
    y = 1320 + row * 22.3
    ov.add_patch(Rectangle((717, y - 5), 16, 10, fc=herd_colors[i], ec='none'))
    parts = lab.split('\n')
    for j, part in enumerate(parts):
        txt(738, y + j * 22.3, part, size=10.8, ha='left', color='#333333')
    row += len(parts)

rbox(303, 1603, 338, 1634, r=7, lw=2.2)
txt(350, 1608, 'Origine de la baisse de l\'excrétion par les bovins :', size=10.5, ha='left',
    style='italic', color='#333333')
txt(350, 1628, 'baisse de l’excrétion par les vaches laitières', size=10.5, ha='left',
    style='italic', color='#333333')
txt(520, 1688, '(Exemple : Fertilisation organique cumulée des différentes catégories',
    size=CAPTION_SIZE)
txt(520, 1708, 'de cheptel du département du Bas-Rhin)', size=CAPTION_SIZE)

fig.savefig('out.png', dpi=100, facecolor='white')
